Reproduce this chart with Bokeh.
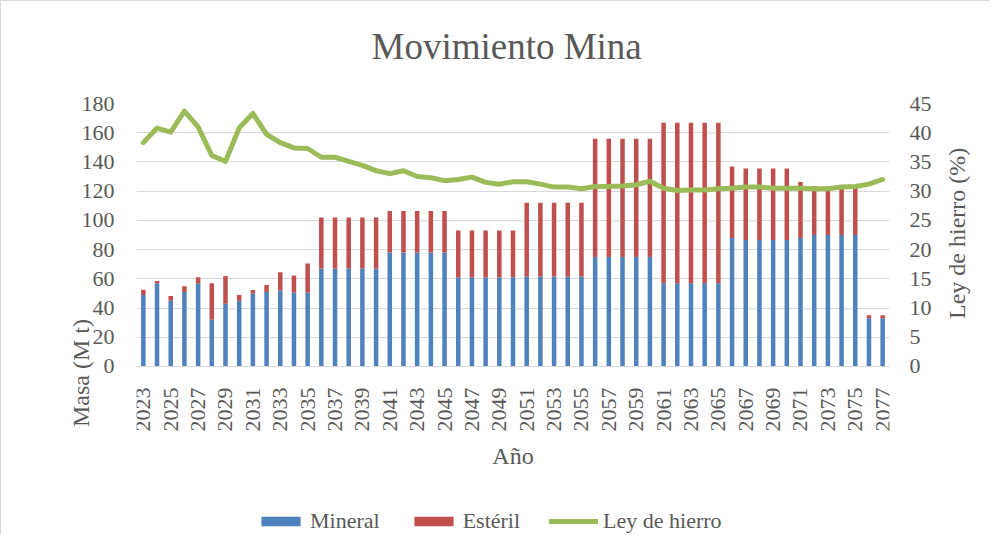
import math
from bokeh.plotting import figure
from bokeh.models import (ColumnDataSource, Range1d, LinearAxis, FixedTicker,
                          Legend, LegendItem, Title)
from bokeh.embed import file_html
from bokeh.resources import INLINE

years = list(range(2023, 2078))
mineral = [49, 57, 45, 51, 57, 32, 43, 45, 50, 51, 52, 50.5, 50.5,
           67, 67, 67, 67, 67,
           78, 78, 78, 78, 78,
           61, 61, 61, 61, 61,
           61.5, 61.5, 61.5, 61.5, 61.5,
           75, 75, 75, 75, 75,
           57, 57, 57, 57, 57,
           88, 86.5, 86.5, 86.5, 86.5, 88, 90, 90, 90, 90, 33, 33]
esteril = [3.5, 1.5, 3.3, 4, 4, 25, 19, 4, 2.3, 4.8, 12.5, 11.7, 20,
           35, 35, 35, 35, 35,
           28.5, 28.5, 28.5, 28.5, 28.5,
           32, 32, 32, 32, 32,
           50.5, 50.5, 50.5, 50.5, 50.5,
           80.8, 80.8, 80.8, 80.8, 80.8,
           109.8, 109.8, 109.8, 109.8, 109.8,
           48.8, 49, 49, 49, 49, 38.3, 33.6, 33.6, 33.6, 33.6, 2, 2]
ley = [38.3, 40.8, 40.1, 43.7, 41.0, 36.1, 35.1, 40.8, 43.3, 39.7, 38.3, 37.4, 37.3,
       35.8, 35.8, 35.1, 34.4, 33.5, 33.0, 33.5, 32.5, 32.3, 31.8, 32.0, 32.4,
       31.5, 31.2, 31.6, 31.6, 31.2, 30.7, 30.7, 30.4, 30.8, 30.8, 30.9, 31.1,
       31.7, 30.5, 30.1, 30.2, 30.2, 30.4, 30.5, 30.7, 30.7, 30.5, 30.5, 30.5,
       30.4, 30.4, 30.7, 30.8, 31.2, 32.0]

left_ticks = [0, 20, 40, 60, 80, 100, 120, 140, 160, 180]
right_ticks = [0, 5, 10, 15, 20, 25, 30, 35, 40, 45]

idx = list(range(len(years)))
source = ColumnDataSource(dict(x=idx, mineral=mineral, esteril=esteril, ley=ley))

FONT = "'Liberation Serif', 'Times New Roman', Tinos, 'DejaVu Serif', serif"
GRAY = "#595959"
BLUE = "#4F81BD"
RED = "#C0504D"
GREEN = "#9BBB59"

# the plotting frame is extended below zero so that the legend sits inside it
Y_MAX = 180
Y_EXT = 115
PCT_MAX = 45

p = figure(width=988, height=548, output_backend="svg", toolbar_location=None,
           x_range=Range1d(-0.5, len(years) - 0.5), y_range=Range1d(-Y_EXT, Y_MAX),
           frame_width=753, frame_height=431,
           min_border_left=135, min_border_right=100,
           min_border_top=102, min_border_bottom=0,
           title=None)
p.styles = {"border-left": "1px solid #d9d9d9", "border-top": "1px solid #d9d9d9"}
p.outline_line_color = None
p.background_fill_color = "white"
p.border_fill_color = "white"

# spacer title (closest to the frame), then the real title above it
p.add_layout(Title(text=" ", text_font_size="10px", standoff=24), "above")
p.add_layout(Title(text="Movimiento Mina", align="left", offset=235, standoff=0,
                   text_font=FONT, text_font_size="37px", text_font_style="normal",
                   text_color=GRAY), "above")

p.extra_y_ranges = {"pct": Range1d(-Y_EXT * PCT_MAX / Y_MAX, PCT_MAX)}

bars = p.vbar_stack(["mineral", "esteril"], x="x", width=0.33, color=[BLUE, RED],
                    line_color=None, source=source)
line = p.line("x", "ley", source=source, y_range_name="pct", line_color=GREEN,
              line_width=5, line_join="round", line_cap="round")

# x axis drawn at y = 0
xa = p.xaxis[0]
xa.fixed_location = 0
xa.ticker = FixedTicker(ticks=idx[::2])
xa.major_label_overrides = {i: str(years[i]) for i in idx[::2]}
xa.major_label_orientation = math.pi / 2
xa.major_label_standoff = 15
xa.major_label_text_font = FONT
xa.major_label_text_font_size = "22px"
xa.major_label_text_color = GRAY
xa.major_tick_line_color = None
xa.minor_tick_line_color = None
xa.axis_line_color = "#d9d9d9"
xa.axis_label = "Año"
xa.axis_label_text_font = FONT
xa.axis_label_text_font_size = "24px"
xa.axis_label_text_font_style = "normal"
xa.axis_label_text_color = GRAY
xa.axis_label_standoff = 8

ya = p.yaxis[0]
ya.ticker = FixedTicker(ticks=left_ticks)
ya.bounds = (0, Y_MAX)
ya.major_label_standoff = 16
ya.axis_label = "Masa (M t)"

ra = LinearAxis(y_range_name="pct", ticker=FixedTicker(ticks=right_ticks),
                bounds=(0, PCT_MAX))
ra.major_label_standoff = 14
ra.axis_label = "Ley de hierro (%)"
p.add_layout(ra, "right")

for ax in (ya, ra):
    try:
        ax.axis_label_orientation = math.pi / 2
    except Exception:
        pass
    ax.major_label_text_font = FONT
    ax.major_label_text_font_size = "22px"
    ax.major_label_text_color = GRAY
    ax.major_tick_line_color = None
    ax.minor_tick_line_color = None
    ax.axis_line_color = None
    ax.axis_label_text_font = FONT
    ax.axis_label_text_font_size = "24px"
    ax.axis_label_text_font_style = "normal"
    ax.axis_label_text_color = GRAY
ya.axis_label_standoff = -2
ra.axis_label_standoff = 22

p.xgrid.grid_line_color = None
p.ygrid.grid_line_color = "#d9d9d9"
p.ygrid.grid_line_width = 1

legend = Legend(items=[LegendItem(label="Mineral", renderers=[bars[0]]),
                       LegendItem(label="Estéril", renderers=[bars[1]]),
                       LegendItem(label="Ley de hierro", renderers=[line])],
                orientation="horizontal", location=(120, 0))
legend.label_text_font = FONT
legend.label_text_font_size = "22px"
legend.label_text_color = GRAY
legend.glyph_width = 49
legend.glyph_height = 12
legend.label_standoff = 5
legend.spacing = 29
legend.padding = 0
legend.margin = 0
legend.border_line_color = None
legend.background_fill_alpha = 0
p.add_layout(legend, "center")

open("out.html", "w").write(file_html(p, INLINE))
